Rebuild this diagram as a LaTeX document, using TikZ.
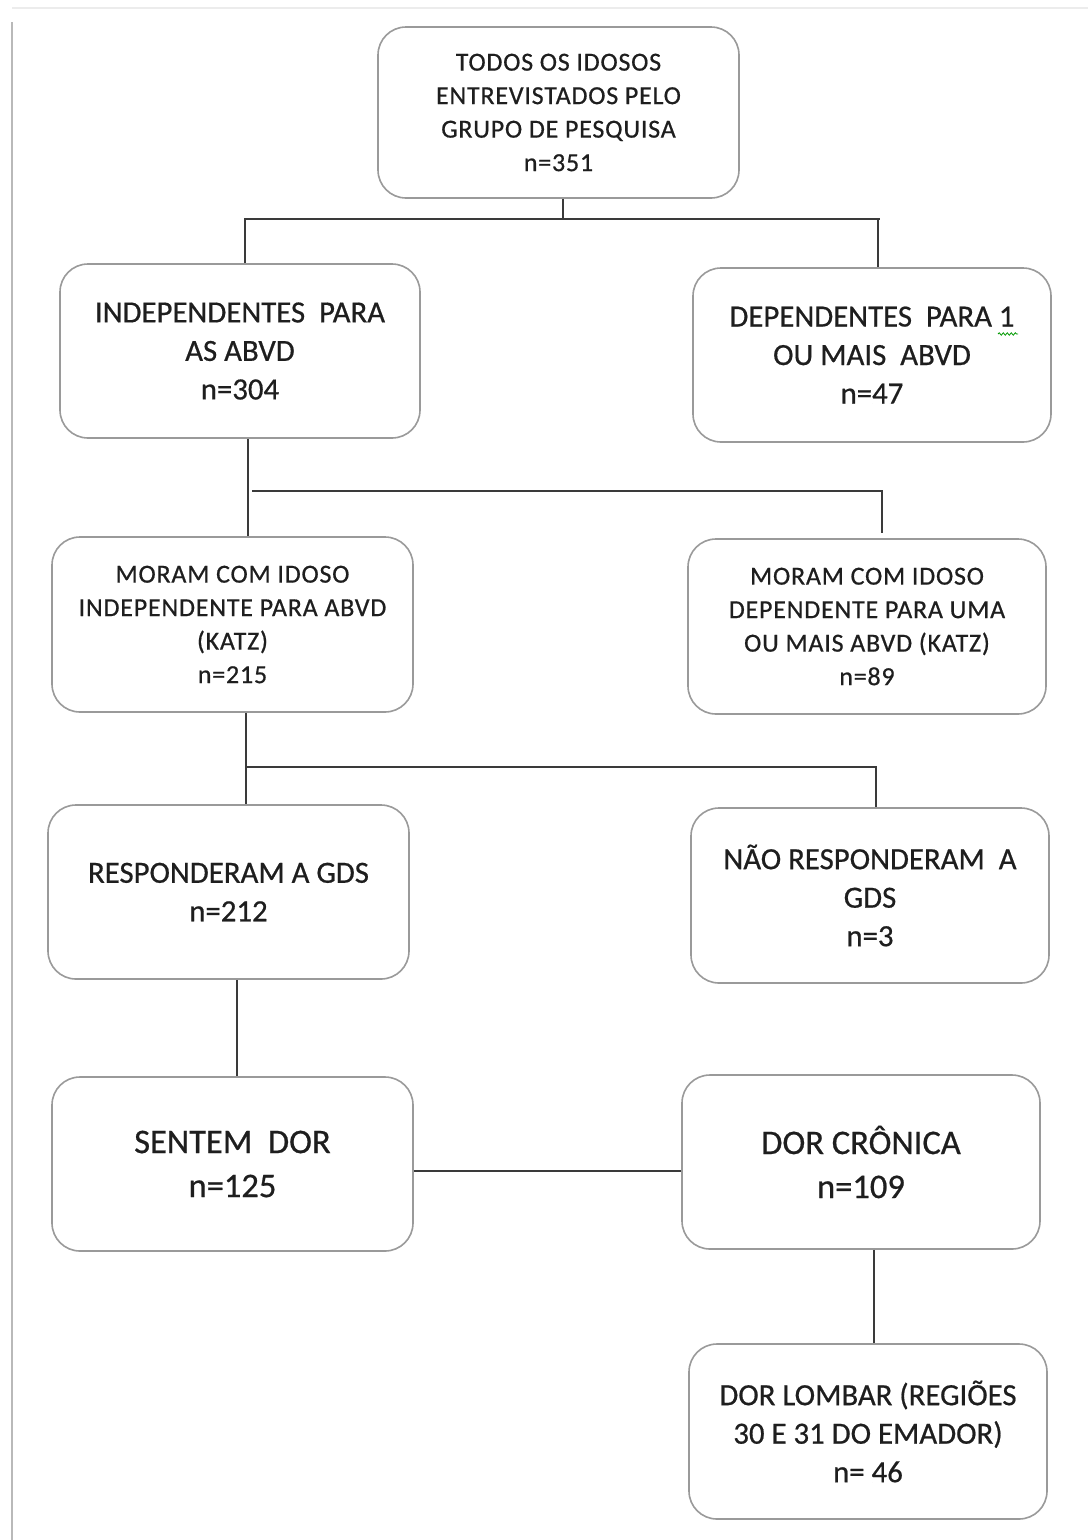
\documentclass[tikz,border=0pt]{standalone}
\usepackage{fontspec}
\setmainfont{Carlito}
\newfontfamily\spacedf[LetterSpace=3,FakeBold=0.6]{Carlito}
\newfontfamily\plainf[FakeBold=0.6]{Carlito}
\usetikzlibrary{decorations.pathmorphing}
\definecolor{txt}{HTML}{1E1E1E}
\definecolor{boxline}{HTML}{9A9A9A}
\definecolor{connline}{HTML}{3A3A3A}
\tikzset{
  boxnode/.style={draw=boxline, line width=1.6pt, rounded corners=28pt, fill=white,
    inner sep=0pt, align=center, text=txt},
  smalltxt/.style={font=\spacedf\fontsize{26}{33.5}\selectfont},
  midtxt/.style={font=\plainf\fontsize{30.8}{38.5}\selectfont},
  bigtxt/.style={font=\plainf\fontsize{34.5}{44}\selectfont},
  conn/.style={draw=connline, line width=1.6pt},
}
\begin{document}
\begin{tikzpicture}[x=1pt,y=-1pt]
\useasboundingbox (0,0) rectangle (1088,1540);
\fill[white] (0,0) rectangle (1088,1540);
% page edge shadow
\draw[gray!15, line width=1.5pt] (12,8) -- (1088,8);
\draw[gray!55, line width=2.5pt] (12,22) -- (12,1540);

% boxes
\node[boxnode, smalltxt, minimum width=361pt, minimum height=171pt] (top) at (558.5,112.5)
  {TODOS OS IDOSOS\\ENTREVISTADOS PELO\\GRUPO DE PESQUISA\\n=351};
\node[boxnode, midtxt, minimum width=360pt, minimum height=174pt] (indep) at (240,351)
  {INDEPENDENTES\ \ PARA\\AS ABVD\\n=304};
\node[boxnode, midtxt, minimum width=358pt, minimum height=174pt] (dep) at (872,355)
  {DEPENDENTES\ \ PARA 1\\OU MAIS\ \ ABVD\\n=47};
\node[boxnode, smalltxt, minimum width=361pt, minimum height=175pt] (moramI) at (232.5,624.5)
  {MORAM COM IDOSO\\INDEPENDENTE PARA ABVD\\(KATZ)\\n=215};
\node[boxnode, smalltxt, minimum width=358pt, minimum height=175pt] (moramD) at (867,626.5)
  {MORAM COM IDOSO\\DEPENDENTE PARA UMA\\OU MAIS ABVD (KATZ)\\n=89};
\node[boxnode, midtxt, minimum width=361pt, minimum height=174pt] (resp) at (228.5,892)
  {RESPONDERAM A GDS\\n=212};
\node[boxnode, midtxt, minimum width=358pt, minimum height=175pt] (nresp) at (870,895.5)
  {NÃO RESPONDERAM\ \ A\\GDS\\n=3};
\node[boxnode, bigtxt, minimum width=361pt, minimum height=174pt] (sentem) at (232.5,1164)
  {SENTEM\ \ DOR\\n=125};
\node[boxnode, bigtxt, minimum width=358pt, minimum height=174pt] (cronica) at (861,1162)
  {DOR CRÔNICA\\n=109};
\node[boxnode, midtxt, minimum width=358pt, minimum height=175pt] (lombar) at (868,1431.5)
  {DOR LOMBAR (REGIÕES\\30 E 31 DO EMADOR)\\n= 46};

% spell-check squiggle under "1"
\draw[green!60!black, line width=0.8pt, decorate, decoration={snake, amplitude=1.2pt, segment length=4pt}]
  (998,334) -- (1018,334);

% junction coordinates
\coordinate (h1) at (0,219);
\coordinate (h2) at (0,491);
\coordinate (h3) at (0,767);
\coordinate (h4) at (0,1171);
\coordinate (v1l) at (245,0);
\coordinate (v1r) at (878,0);
\coordinate (v2l) at (248,0);
\coordinate (v2s) at (252,0);
\coordinate (v2r) at (882,0);
\coordinate (v3l) at (246,0);
\coordinate (v3r) at (876,0);
\coordinate (v4) at (237,0);
\coordinate (v5) at (874,0);
\coordinate (e2r) at (0,533);

% level 1
\draw[conn] ([xshift=4.5pt]top.south) -- ([xshift=4.5pt]top.south |- h1);
\draw[conn] (v1l |- indep.north) -- (v1l |- h1) -- ([xshift=2pt]v1r |- h1);
\draw[conn] (v1r |- h1) -- (v1r |- dep.north);
% level 2
\draw[conn] (v2l |- indep.south) -- (v2l |- moramI.north);
\draw[conn] (v2s |- h2) -- (v2r |- h2) -- (v2r |- e2r);
% level 3
\draw[conn] (v3l |- moramI.south) -- (v3l |- resp.north);
\draw[conn] (v3l |- h3) -- (v3r |- h3) -- (v3r |- nresp.north);
% level 4
\draw[conn] (v4 |- resp.south) -- (v4 |- sentem.north);
\draw[conn] (sentem.east |- h4) -- (cronica.west |- h4);
% level 5
\draw[conn] (v5 |- cronica.south) -- (v5 |- lombar.north);
\end{tikzpicture}
\end{document}
